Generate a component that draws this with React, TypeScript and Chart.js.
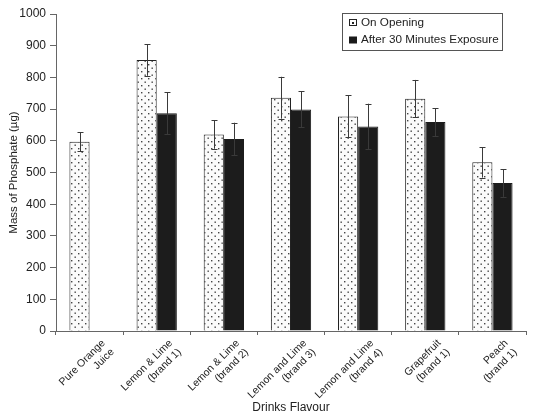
import { useEffect, useRef } from 'react';
import { Chart, registerables } from 'chart.js';

Chart.register(...registerables);

const flavours: string[][] = [
    ['Pure Orange', 'Juice'],
    ['Lemon & Lime', '(brand 1)'],
    ['Lemon & Lime', '(brand 2)'],
    ['Lemon and Lime', '(brand 3)'],
    ['Lemon and Lime', '(brand 4)'],
    ['Grapefruit', '(brand 1)'],
    ['Peach', '(brand 1)'],
];

const onOpening = [597, 855, 620, 736, 677, 733, 532];
const onOpeningErr = [30, 50, 45, 66, 66, 59, 48];

const afterExposure = [null, 687, 606, 699, 645, 659, 467];
const afterExposureErr = [null, 66, 51, 57, 72, 44, 44];

const yTicks = [0, 100, 200, 300, 400, 500, 600, 700, 800, 900, 1000];

const seriesNames = ['On Opening', 'After 30 Minutes Exposure'];

const FONT = '"Liberation Sans", Arial, Helvetica, sans-serif';

// dotted fill used for the "On Opening" bars
function makeDotPattern(ctx: CanvasRenderingContext2D) {
    const tile = document.createElement('canvas');
    tile.width = 7;
    tile.height = 7;
    const t = tile.getContext('2d')!;
    t.fillStyle = '#fbfbfb';
    t.fillRect(0, 0, 7, 7);
    t.fillStyle = '#444';
    t.fillRect(1, 1, 1.4, 1.4);
    t.fillRect(4.5, 4.5, 1.4, 1.4);
    return ctx.createPattern(tile, 'repeat')!;
}

const errorBars = {
    id: 'errorBars',
    afterDatasetsDraw(chart: any) {
        const { ctx, scales } = chart;
        const errs = [onOpeningErr, afterExposureErr];
        ctx.save();
        ctx.strokeStyle = '#3a3a3a';
        ctx.lineWidth = 1;
        chart.data.datasets.forEach((ds: any, i: number) => {
            const meta = chart.getDatasetMeta(i);
            meta.data.forEach((bar: any, j: number) => {
                const v = ds.data[j];
                const e = errs[i][j];
                if (v == null || e == null) return;
                const top = scales.y.getPixelForValue(v + e);
                const bot = scales.y.getPixelForValue(v - e);
                const x = Math.round(bar.x) + 0.5;
                ctx.beginPath();
                ctx.moveTo(x, top);
                ctx.lineTo(x, bot);
                ctx.moveTo(x - 3, Math.round(top) + 0.5);
                ctx.lineTo(x + 3, Math.round(top) + 0.5);
                ctx.moveTo(x - 3, Math.round(bot) + 0.5);
                ctx.lineTo(x + 3, Math.round(bot) + 0.5);
                ctx.stroke();
            });
        });
        ctx.restore();
    },
};

const boxLegend = {
    id: 'boxLegend',
    afterDraw(chart: any) {
        const { ctx, chartArea } = chart;
        const left = chartArea.right - 184;
        const top = chartArea.top - 1;
        const w = 160;
        const h = 37;
        ctx.save();
        ctx.fillStyle = '#fff';
        ctx.fillRect(left, top, w, h);
        ctx.strokeStyle = '#555';
        ctx.lineWidth = 1;
        ctx.strokeRect(left + 0.5, top + 0.5, w, h);

        ctx.font = `11.7px ${FONT}`;
        ctx.textBaseline = 'middle';
        ctx.fillStyle = '#222';
        const rows = [top + 10, top + 27];
        // icon 1: outlined dotted square
        ctx.strokeStyle = '#222';
        ctx.strokeRect(left + 7.5, rows[0] - 3.5, 7, 6);
        ctx.fillRect(left + 10, rows[0] - 1, 2, 2);
        // icon 2: solid square
        ctx.fillStyle = '#1a1a1a';
        ctx.fillRect(left + 7, rows[1] - 3.5, 8, 7);
        ctx.fillStyle = '#222';
        seriesNames.forEach((name, i) => ctx.fillText(name, left + 19, rows[i]));
        ctx.restore();
    },
};

export default function App() {
    const chartRef = useRef<HTMLCanvasElement>(null);
    const chartInstance = useRef<Chart | null>(null);

    useEffect(() => {
        document.body.style.margin = '0';
        if (!chartRef.current) return;
        const ctx = chartRef.current.getContext('2d');
        if (!ctx) return;

        if (chartInstance.current) {
            chartInstance.current.destroy();
        }

        const dots = makeDotPattern(ctx);

        chartInstance.current = new Chart(ctx, {
            type: 'bar',
            data: {
                labels: flavours,
                datasets: [
                    {
                        label: seriesNames[0],
                        data: onOpening,
                        backgroundColor: dots,
                        borderColor: '#222',
                        borderWidth: 1,
                        categoryPercentage: 0.6,
                        barPercentage: 1.0,
                    },
                    {
                        label: seriesNames[1],
                        data: afterExposure,
                        backgroundColor: '#1c1c1c',
                        borderColor: '#1c1c1c',
                        borderWidth: 1,
                        categoryPercentage: 0.6,
                        barPercentage: 1.0,
                    },
                ],
            },
            options: {
                animation: false,
                responsive: false,
                maintainAspectRatio: false,
                layout: {
                    padding: { top: 14, right: 14, left: 0, bottom: 0 },
                },
                plugins: {
                    legend: { display: false },
                    tooltip: { enabled: false },
                },
                scales: {
                    x: {
                        afterFit: (scale: any) => {
                            scale.height = 88;
                        },
                        grid: {
                            drawOnChartArea: false,
                            tickLength: 4,
                            color: '#666',
                        },
                        border: { color: '#666' },
                        ticks: {
                            minRotation: 45,
                            maxRotation: 45,
                            autoSkip: false,
                            color: '#222',
                            padding: 2,
                            labelOffset: 14,
                            font: { family: FONT, size: 10.5 },
                        },
                        title: {
                            display: true,
                            text: 'Drinks Flavour',
                            color: '#222',
                            font: { family: FONT, size: 12 },
                        },
                    },
                    y: {
                        min: 0,
                        max: 1000,
                        afterFit: (scale: any) => {
                            scale.width = 56;
                        },
                        afterBuildTicks: (scale: any) => {
                            scale.ticks = yTicks.map((v) => ({ value: v }));
                        },
                        grid: {
                            drawOnChartArea: false,
                            tickLength: 6,
                            color: '#666',
                        },
                        border: { color: '#666' },
                        ticks: {
                            color: '#222',
                            padding: 4,
                            font: { family: FONT, size: 12 },
                            callback: (v: any) => String(v),
                        },
                        title: {
                            display: true,
                            text: 'Mass of Phosphate (µg)',
                            color: '#222',
                            padding: { top: 7, bottom: 0 },
                            font: { family: FONT, size: 11.5 },
                        },
                    },
                },
            },
            plugins: [errorBars, boxLegend],
        });

        return () => {
            if (chartInstance.current) {
                chartInstance.current.destroy();
                chartInstance.current = null;
            }
        };
    }, []);

    return (
        <div style={{ width: 540, height: 419, background: '#fff' }}>
            <canvas ref={chartRef} width={540} height={419} />
        </div>
    );
}
